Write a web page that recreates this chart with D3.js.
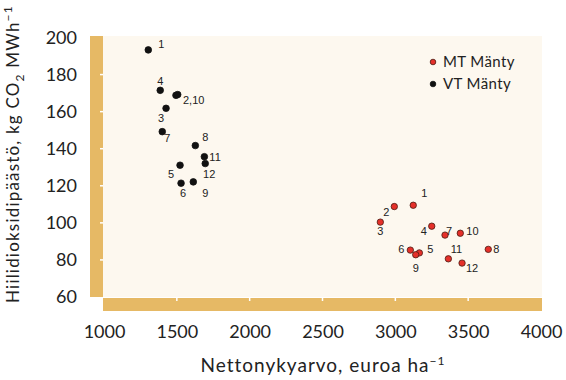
<!DOCTYPE html>
<html>
<head>
<meta charset="utf-8">
<title>Nettonykyarvo ja hiilidioksidipäästö</title>
<script src="https://d3js.org/d3.v7.min.js"></script>
<style>
  body { margin: 0; background: #fff; }
  svg text { font-family: Lato, "Open Sans", sans-serif; fill: #222; }
  .lbl { font-family: "Liberation Sans", Arial, sans-serif; font-size: 11px; }
</style>
</head>
<body>
<svg width="566" height="380"></svg>
<script>
// data: net present value (euro/ha) and CO2 (kg/MWh)
var idsMT = ["1","2","3","4","5","6","7","8","9","10","11","12"];
var npvMT = [3123, 2993, 2897, 3250, 3165, 3103, 3341, 3638, 3140, 3446, 3364, 3458];
var co2MT = [109.5, 108.8, 100.4, 98.2, 83.8, 85.3, 93.4, 85.7, 82.8, 94.4, 80.6, 78.3];

var idsVT = ["1","2,10","3","4","5","6","7","8","9","","11","12"];
var npvVT = [1304, 1494, 1426, 1386, 1522, 1529, 1400, 1627, 1613, 1506, 1689, 1695];
var co2VT = [193.3, 168.8, 161.8, 171.5, 131.1, 121.4, 149.2, 141.7, 122.1, 169.2, 135.7, 132];

var xTicks = [1000, 1500, 2000, 2500, 3000, 3500, 4000];
var yTicks = [60, 80, 100, 120, 140, 160, 180, 200];
var seriesNames = ["MT Mänty", "VT Mänty"];

// label offsets (layout only): [dx, dy, anchor]
var offMT = [[11,-12,"middle"],[-8,6,"middle"],[0,9,"middle"],[-8,5,"middle"],[11,-4,"middle"],[-9,-1,"middle"],
             [4,-4,"middle"],[5,0,"start"],[0,13,"middle"],[6,-2,"start"],[8,-10,"middle"],[10,5,"middle"]];
var offVT = [[13,-6,"middle"],[7,5,"start"],[-5,10,"middle"],[0,-9,"middle"],[-9,9,"middle"],[2,10,"middle"],
             [5,6,"middle"],[10,-8,"middle"],[12,11,"middle"],[0,0,"middle"],[5,0,"start"],[4,11,"middle"]];

var svg = d3.select("svg");
var x = d3.scaleLinear().domain([1000, 4000]).range([104, 541]);
var y = d3.scaleLinear().domain([60, 200]).range([297, 37.5]);

var gold = "#e6b965", cream = "#fdf8ef";

// panel
svg.append("rect").attr("x", 103).attr("y", 36).attr("width", 439).attr("height", 261).attr("fill", cream);
svg.append("rect").attr("x", 90).attr("y", 36).attr("width", 13).attr("height", 261).attr("fill", gold);
svg.append("rect").attr("x", 103).attr("y", 298).attr("width", 439).attr("height", 13).attr("fill", gold);

// white tick marks inside the bars
svg.append("g").selectAll("line")
  .data(yTicks.slice(1, -1)).enter().append("line")
    .attr("x1", 100).attr("x2", 103)
    .attr("y1", function(d) { return y(d); }).attr("y2", function(d) { return y(d); })
    .attr("stroke", "#fff").attr("stroke-width", 1.5);
svg.append("g").selectAll("line")
  .data(xTicks.slice(1, -1)).enter().append("line")
    .attr("y1", 298).attr("y2", 301)
    .attr("x1", function(d) { return x(d); }).attr("x2", function(d) { return x(d); })
    .attr("stroke", "#fff").attr("stroke-width", 1.5);

// axes (labels only)
var gx = svg.append("g").attr("transform", "translate(0,298)")
  .call(d3.axisBottom(x).tickValues(xTicks).tickSize(0).tickPadding(27).tickFormat(d3.format("d")));
var gy = svg.append("g").attr("transform", "translate(103,0)")
  .call(d3.axisLeft(y).tickValues(yTicks).tickSize(0).tickPadding(26));
[gx, gy].forEach(function(g) {
  g.select(".domain").remove();
  g.selectAll("text").attr("font-family", null).attr("font-size", 18).attr("fill", "#222");
});

// axis titles
var xt = svg.append("text").attr("x", 323).attr("y", 372).attr("text-anchor", "middle")
  .attr("font-size", 19).attr("letter-spacing", 1);
xt.append("tspan").text("Nettonykyarvo, euroa ha");
xt.append("tspan").attr("dy", -7).attr("font-size", 12).text("\u22121");

var yt = svg.append("text").attr("transform", "translate(19,154) rotate(-90)")
  .attr("text-anchor", "middle").attr("font-size", 17).attr("letter-spacing", 1.2);
yt.append("tspan").text("Hiilidioksidipäästö, kg CO");
yt.append("tspan").attr("dy", 5).attr("font-size", 12).text("2");
yt.append("tspan").attr("dy", -5).text(" MWh");
yt.append("tspan").attr("dy", -7).attr("font-size", 12).text("\u22121");

// points
function drawSeries(npv, co2, ids, off, fill, stroke, r) {
  var g = svg.append("g");
  var pts = npv.map(function(v, i) { return {x: v, y: co2[i], id: ids[i], off: off[i]}; });
  g.selectAll("circle").data(pts).enter().append("circle")
    .attr("cx", function(d) { return x(d.x); })
    .attr("cy", function(d) { return y(d.y); })
    .attr("r", r).attr("fill", fill).attr("stroke", stroke).attr("stroke-width", 0.8);
  g.selectAll("text").data(pts).enter().append("text")
    .attr("class", "lbl")
    .attr("x", function(d) { return x(d.x) + d.off[0]; })
    .attr("y", function(d) { return y(d.y) + d.off[1]; })
    .attr("dy", "0.35em")
    .attr("text-anchor", function(d) { return d.off[2]; })
    .text(function(d) { return d.id; });
}
drawSeries(npvVT, co2VT, idsVT, offVT, "#111", "#111", 3.3);
drawSeries(npvMT, co2MT, idsMT, offMT, "#e5302a", "#4a1a12", 3.2);

// legend
var leg = svg.append("g").attr("transform", "translate(433,62)");
var legColors = [["#e5302a", "#4a1a12"], ["#111", "#111"]];
seriesNames.forEach(function(name, i) {
  leg.append("circle").attr("cx", 0).attr("cy", i * 22).attr("r", 2.8)
    .attr("fill", legColors[i][0]).attr("stroke", legColors[i][1]).attr("stroke-width", 0.8);
  leg.append("text").attr("x", 10).attr("y", i * 22).attr("dy", "0.35em")
    .attr("font-size", 15).attr("letter-spacing", 0.4).text(name);
});
</script>
</body>
</html>
